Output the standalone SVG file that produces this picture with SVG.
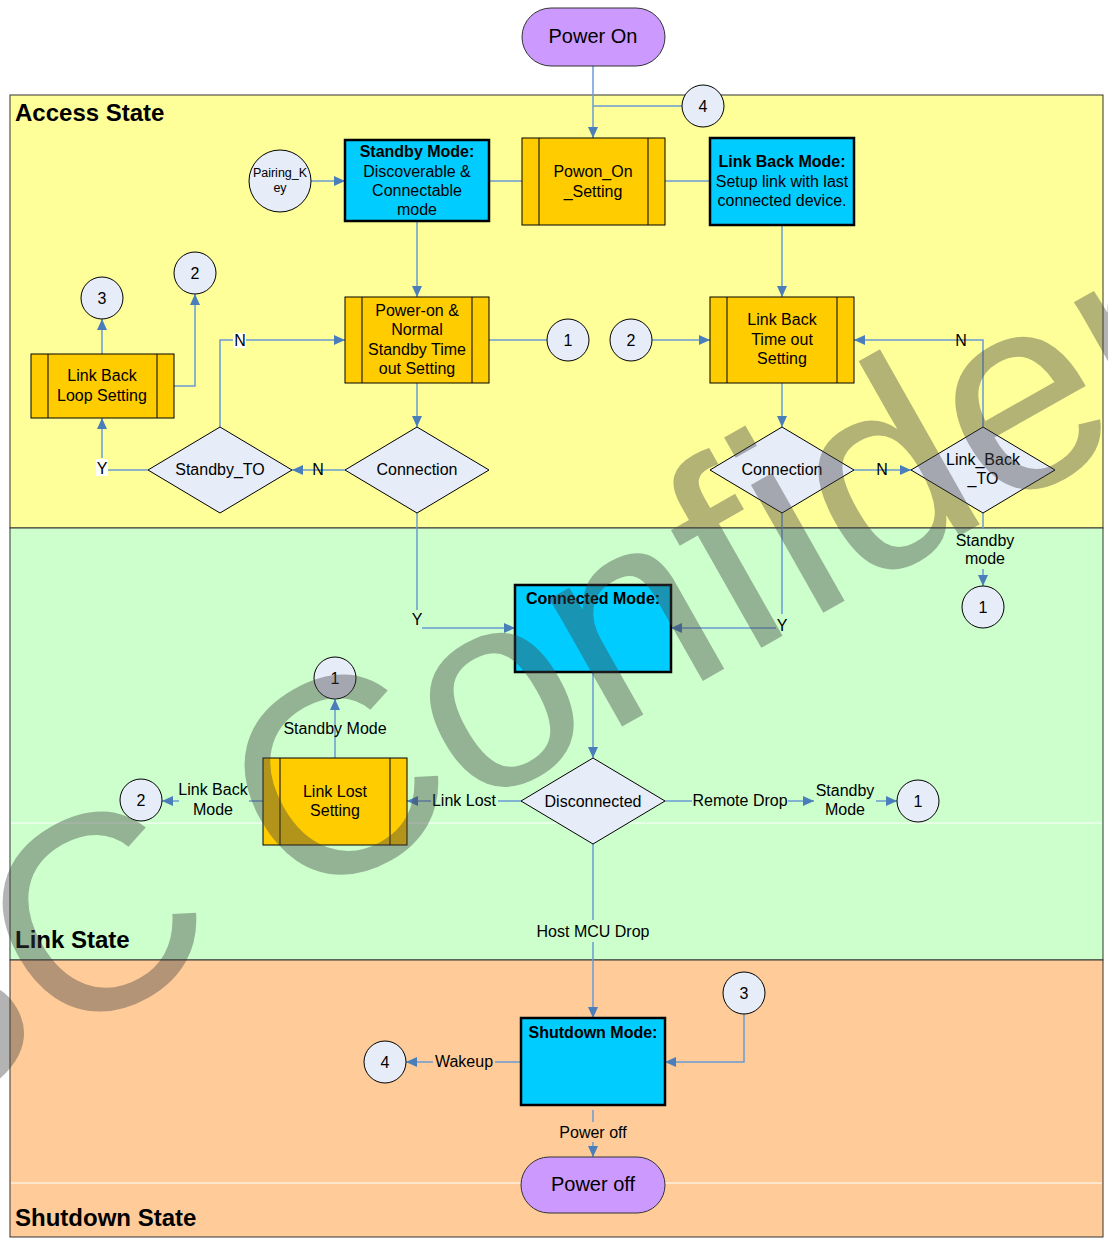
<svg xmlns="http://www.w3.org/2000/svg" width="1108" height="1240" viewBox="0 0 1108 1240">
  <style>
    text { font-family: "Liberation Sans", Arial, sans-serif; fill: #000; }
    .t { font-size: 16px; text-anchor: middle; }
    .b { font-weight: bold; }
    .lane { font-size: 24px; font-weight: bold; }
    .pill { fill: #cc99ff; stroke: #333; stroke-width: 1; }
    .proc { fill: #ffcc00; stroke: #000; stroke-width: 1; }
    .mode { fill: #00ccff; stroke: #000; stroke-width: 2.5; }
    .dec { fill: #e6ecf8; stroke: #000; stroke-width: 1; }
    .ref { fill: #e6ecf8; stroke: #000; stroke-width: 1; }
    .c { fill: none; stroke: #6a9bd5; stroke-width: 1.5; }
    .a { marker-end: url(#arr); }
    .sep { stroke: #fff; stroke-width: 1; }
    .wm { font-size: 278px; fill: #404040; fill-opacity: 0.4; }
  </style>
  <defs>
    <marker id="arr" markerUnits="userSpaceOnUse" markerWidth="12" markerHeight="10" refX="11" refY="5" orient="auto">
      <path d="M0,0 L11,5 L0,10 z" fill="#4a7ebb"/>
    </marker>
  </defs>

  <rect width="1108" height="1240" fill="#fff"/>

  <!-- swimlanes -->
  <g id="lane-access">
    <rect x="10" y="95" width="1093" height="433" fill="#ffff99" stroke="#333" stroke-width="1"/>
    <text class="lane" x="15" y="121">Access State</text>
  </g>
  <g id="lane-link">
    <rect x="10" y="528" width="1093" height="432" fill="#ccffcc" stroke="#333" stroke-width="1"/>
    <line class="sep" x1="11" y1="823" x2="1102" y2="823"/>
    <text class="lane" x="15" y="948">Link State</text>
  </g>
  <g id="lane-shutdown">
    <rect x="10" y="960" width="1093" height="277" fill="#ffcc99" stroke="#333" stroke-width="1"/>
    <line class="sep" x1="11" y1="1183" x2="1102" y2="1183"/>
    <text class="lane" x="15" y="1226">Shutdown State</text>
  </g>

  <!-- connectors -->
  <g id="connectors">
    <path class="c a" d="M593,66 V138"/>
    <path class="c" d="M682,106 H593"/>
    <path class="c a" d="M311,181 H345"/>
    <path class="c" d="M489,181 H522"/>
    <path class="c" d="M665,181 H710"/>
    <path class="c a" d="M417,221 V297"/>
    <path class="c a" d="M782,225 V297"/>
    <path class="c" d="M489,340 H547"/>
    <path class="c a" d="M652,340 H710"/>
    <path class="c a" d="M417,383 V427"/>
    <path class="c a" d="M782,383 V427"/>
    <path class="c a" d="M345,470 H292"/>
    <path class="c a" d="M220,427 V340 H345"/>
    <path class="c" d="M148,470 H107"/>
    <path class="c a" d="M102,458 V418"/>
    <path class="c a" d="M102,354 V319"/>
    <path class="c a" d="M174,386 H195 V294"/>
    <path class="c a" d="M854,470 H911"/>
    <path class="c a" d="M983,427 V340 H854"/>
    <path class="c" d="M983,513 V529"/>
    <path class="c a" d="M983,569 V586"/>
    <path class="c" d="M417,513 V610"/>
    <path class="c a" d="M422,628 H515"/>
    <path class="c" d="M782,513 V614"/>
    <path class="c a" d="M776,628 H671"/>
    <path class="c a" d="M593,672 V758"/>
    <path class="c" d="M521,801 H498"/>
    <path class="c a" d="M431,801 H407"/>
    <path class="c a" d="M335,758 V699"/>
    <path class="c" d="M263,801 H249"/>
    <path class="c a" d="M179,801 H162"/>
    <path class="c" d="M665,801 H692"/>
    <path class="c a" d="M788,801 H814"/>
    <path class="c a" d="M876,801 H897"/>
    <path class="c" d="M593,844 V920"/>
    <path class="c a" d="M593,942 V1018"/>
    <path class="c a" d="M744,1014 V1062 H665"/>
    <path class="c" d="M521,1062 H495"/>
    <path class="c a" d="M433,1062 H406"/>
    <path class="c" d="M593,1110 V1122"/>
    <path class="c a" d="M593,1142 V1157"/>

    <rect x="233" y="333" width="13" height="15" fill="#fff"/>
    <text class="t" x="240" y="346">N</text>
    <rect x="96" y="459" width="12" height="17" fill="#fff"/>
    <text class="t" x="102" y="474">Y</text>
    <text class="t" x="318" y="475">N</text>
    <text class="t" x="882" y="475">N</text>
    <text class="t" x="961" y="346">N</text>
    <text class="t" x="417" y="625">Y</text>
    <text class="t" x="782" y="631">Y</text>
    <text class="t" x="985" y="546">Standby</text>
    <text class="t" x="985" y="564">mode</text>
    <text class="t" x="464" y="806">Link Lost</text>
    <text class="t" x="335" y="734">Standby Mode</text>
    <text class="t" x="213" y="795">Link Back</text>
    <text class="t" x="213" y="815">Mode</text>
    <text class="t" x="740" y="806">Remote Drop</text>
    <text class="t" x="845" y="796">Standby</text>
    <text class="t" x="845" y="815">Mode</text>
    <text class="t" x="593" y="937">Host MCU Drop</text>
    <text class="t" x="464" y="1067">Wakeup</text>
    <text class="t" x="593" y="1138">Power off</text>
  </g>

  <!-- nodes -->
  <g id="power-on">
    <rect class="pill" x="522" y="8" width="143" height="58" rx="29"/>
    <text class="t" x="593" y="43" style="font-size:20px">Power On</text>
  </g>
  <g id="ref4-top">
    <circle class="ref" cx="703" cy="106" r="21"/>
    <text class="t" x="703" y="112">4</text>
  </g>
  <g id="pairing-key">
    <circle class="ref" cx="280" cy="181" r="31"/>
    <text class="t" x="280" y="177" style="font-size:12.5px">Pairing_K</text>
    <text class="t" x="280" y="192" style="font-size:12.5px">ey</text>
  </g>
  <g id="standby-mode">
    <rect class="mode" x="345" y="140" width="144" height="81"/>
    <text class="t b" x="417" y="157">Standby Mode:</text>
    <text class="t" x="417" y="177">Discoverable &amp;</text>
    <text class="t" x="417" y="196">Connectable</text>
    <text class="t" x="417" y="215">mode</text>
  </g>
  <g id="powon-on-setting">
    <rect class="proc" x="522" y="138" width="143" height="87"/>
    <path d="M539,138 V225 M648,138 V225" stroke="#000" stroke-width="1"/>
    <text class="t" x="593" y="177">Powon_On</text>
    <text class="t" x="593" y="197">_Setting</text>
  </g>
  <g id="link-back-mode">
    <rect class="mode" x="710" y="138" width="144" height="87"/>
    <text class="t b" x="782" y="167">Link Back Mode:</text>
    <text class="t" x="782" y="187">Setup link with last</text>
    <text class="t" x="782" y="206">connected device.</text>
  </g>
  <g id="poweron-standby-setting">
    <rect class="proc" x="345" y="297" width="144" height="86"/>
    <path d="M362,297 V383 M472,297 V383" stroke="#000" stroke-width="1"/>
    <text class="t" x="417" y="316">Power-on &amp;</text>
    <text class="t" x="417" y="335">Normal</text>
    <text class="t" x="417" y="355">Standby Time</text>
    <text class="t" x="417" y="374">out Setting</text>
  </g>
  <g id="ref1-a">
    <circle class="ref" cx="568" cy="340" r="21"/>
    <text class="t" x="568" y="346">1</text>
  </g>
  <g id="ref2-a">
    <circle class="ref" cx="631" cy="340" r="21"/>
    <text class="t" x="631" y="346">2</text>
  </g>
  <g id="link-back-timeout">
    <rect class="proc" x="710" y="297" width="144" height="86"/>
    <path d="M727,297 V383 M837,297 V383" stroke="#000" stroke-width="1"/>
    <text class="t" x="782" y="325">Link Back</text>
    <text class="t" x="782" y="345">Time out</text>
    <text class="t" x="782" y="364">Setting</text>
  </g>
  <g id="link-back-loop">
    <rect class="proc" x="31" y="354" width="143" height="64"/>
    <path d="M48,354 V418 M157,354 V418" stroke="#000" stroke-width="1"/>
    <text class="t" x="102" y="381">Link Back</text>
    <text class="t" x="102" y="401">Loop Setting</text>
  </g>
  <g id="ref3-a">
    <circle class="ref" cx="102" cy="298" r="21"/>
    <text class="t" x="102" y="304">3</text>
  </g>
  <g id="ref2-b">
    <circle class="ref" cx="195" cy="273" r="21"/>
    <text class="t" x="195" y="279">2</text>
  </g>
  <g id="standby-to">
    <polygon class="dec" points="148,470 220,427 292,470 220,513"/>
    <text class="t" x="220" y="475">Standby_TO</text>
  </g>
  <g id="connection-a">
    <polygon class="dec" points="345,470 417,427 489,470 417,513"/>
    <text class="t" x="417" y="475">Connection</text>
  </g>
  <g id="connection-b">
    <polygon class="dec" points="710,470 782,427 854,470 782,513"/>
    <text class="t" x="782" y="475">Connection</text>
  </g>
  <g id="link-back-to">
    <polygon class="dec" points="911,470 983,427 1055,470 983,513"/>
    <text class="t" x="983" y="465">Link_Back</text>
    <text class="t" x="983" y="484">_TO</text>
  </g>
  <g id="ref1-b">
    <circle class="ref" cx="983" cy="607" r="21"/>
    <text class="t" x="983" y="613">1</text>
  </g>
  <g id="connected-mode">
    <rect class="mode" x="515" y="585" width="156" height="87"/>
    <text class="t b" x="593" y="604">Connected Mode:</text>
  </g>
  <g id="disconnected">
    <polygon class="dec" points="521,801 593,758 665,801 593,844"/>
    <text class="t" x="593" y="807">Disconnected</text>
  </g>
  <g id="link-lost-setting">
    <rect class="proc" x="263" y="758" width="144" height="87"/>
    <path d="M280,758 V845 M390,758 V845" stroke="#000" stroke-width="1"/>
    <text class="t" x="335" y="797">Link Lost</text>
    <text class="t" x="335" y="816">Setting</text>
  </g>
  <g id="ref1-c">
    <circle class="ref" cx="335" cy="678" r="21"/>
    <text class="t" x="335" y="684">1</text>
  </g>
  <g id="ref2-c">
    <circle class="ref" cx="141" cy="800" r="21"/>
    <text class="t" x="141" y="806">2</text>
  </g>
  <g id="ref1-d">
    <circle class="ref" cx="918" cy="801" r="21"/>
    <text class="t" x="918" y="807">1</text>
  </g>
  <g id="shutdown-mode">
    <rect class="mode" x="521" y="1018" width="144" height="87"/>
    <text class="t b" x="593" y="1038">Shutdown Mode:</text>
  </g>
  <g id="ref3-b">
    <circle class="ref" cx="744" cy="993" r="21"/>
    <text class="t" x="744" y="999">3</text>
  </g>
  <g id="ref4-b">
    <circle class="ref" cx="385" cy="1062" r="21"/>
    <text class="t" x="385" y="1068">4</text>
  </g>
  <g id="power-off">
    <rect class="pill" x="521" y="1157" width="144" height="56" rx="28"/>
    <text class="t" x="593" y="1191" style="font-size:20px">Power off</text>
  </g>

  <!-- watermark -->
  <text class="wm" transform="translate(54 1048) rotate(-29.5)" x="-448" y="0">ISSC Confidential</text>
</svg>
